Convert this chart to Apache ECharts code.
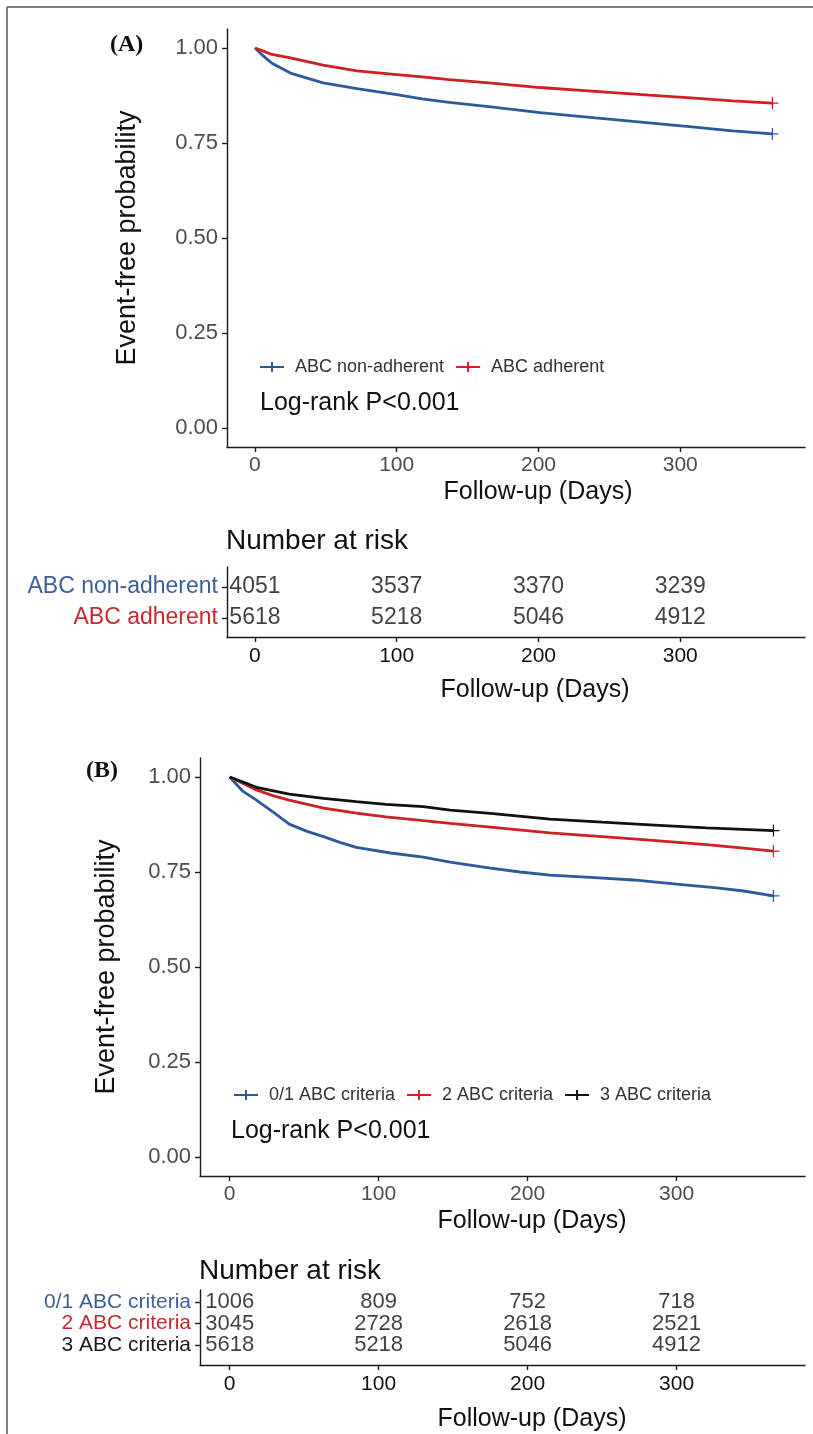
<!DOCTYPE html>
<html>
<head>
<meta charset="utf-8">
<script src="https://cdn.jsdelivr.net/npm/echarts@6/dist/echarts.min.js"></script>
<style>
html,body{margin:0;padding:0;background:#fff;}
#chart{width:813px;height:1434px;}
</style>
</head>
<body>
<div id="chart"></div>
<script>
// ---------- DATA ----------
const xTicks = [0, 100, 200, 300];
const yTicks = [0, 0.25, 0.5, 0.75, 1];

// Panel A survival curves (day, probability)
const aNonAdherentDays = [0, 5, 12, 25, 48, 72, 100, 118, 137, 165, 201, 240, 278, 310, 337, 365];
const aNonAdherentProb = [1.0, 0.982, 0.960, 0.934, 0.908, 0.893, 0.877, 0.866, 0.857, 0.846, 0.830, 0.816, 0.803, 0.792, 0.782, 0.774];
const aAdherentDays = [0, 5, 12, 25, 48, 72, 100, 118, 137, 165, 201, 240, 278, 310, 337, 365];
const aAdherentProb = [1.0, 0.993, 0.983, 0.974, 0.955, 0.940, 0.930, 0.924, 0.917, 0.908, 0.896, 0.886, 0.876, 0.868, 0.861, 0.855];

// Panel B survival curves
const b01Days = [0, 9, 18, 29, 40, 52, 63, 74, 85, 108, 130, 148, 175, 195, 215, 245, 271, 300, 327, 345, 365];
const b01Prob = [1.0, 0.962, 0.939, 0.908, 0.876, 0.857, 0.843, 0.828, 0.815, 0.800, 0.789, 0.776, 0.760, 0.750, 0.742, 0.735, 0.729, 0.718, 0.708, 0.700, 0.687];
const b2Days = [0, 8, 18, 29, 40, 63, 85, 105, 130, 148, 175, 215, 250, 282, 320, 345, 365];
const b2Prob = [1.0, 0.985, 0.966, 0.951, 0.939, 0.918, 0.905, 0.895, 0.885, 0.878, 0.868, 0.853, 0.843, 0.834, 0.822, 0.813, 0.805];
const b3Days = [0, 8, 18, 40, 63, 85, 105, 130, 148, 175, 215, 250, 282, 320, 365];
const b3Prob = [1.0, 0.988, 0.973, 0.955, 0.944, 0.935, 0.928, 0.922, 0.913, 0.904, 0.889, 0.881, 0.874, 0.866, 0.859];

// Number at risk tables
const riskDays = [0, 100, 200, 300];
const aRowNames = ['ABC non-adherent', 'ABC adherent'];
const aRiskNonAdherent = [4051, 3537, 3370, 3239];
const aRiskAdherent = [5618, 5218, 5046, 4912];
const bRowNames = ['0/1 ABC criteria', '2 ABC criteria', '3 ABC criteria'];
const bRisk01 = [1006, 809, 752, 718];
const bRisk2 = [3045, 2728, 2618, 2521];
const bRisk3 = [5618, 5218, 5046, 4912];

// ---------- STYLE ----------
const BLUE = '#2C5A9C', RED = '#D01F25', BLACK = '#111111';
const ROWBLUE = '#3E5F98', ROWRED = '#C32B30', ROWBLACK = '#1a1a1a';
const FONT = '"Liberation Sans", Arial, sans-serif';
const PLUS = 'path://M-0.1,-1H0.1V1H-0.1Z M-1,-0.1H1V0.1H-1Z';
const LEGICON = 'path://M0,4H24V6H0Z M11,0H13V10H11Z';

function curve(days, prob) {
  const last = days.length - 1;
  return days.map((d, i) => i === last
    ? { value: [d, prob[i]], symbol: PLUS, symbolSize: 12 }
    : [d, prob[i]]);
}
function lineSeries(name, days, prob, color, xi, yi) {
  return {
    type: 'line', name, xAxisIndex: xi, yAxisIndex: yi,
    data: curve(days, prob), symbol: 'none', showSymbol: true,
    color, itemStyle: { color }, lineStyle: { color, width: 2.8 },
    emphasis: { disabled: true }, z: 3
  };
}
function riskSeries(name, counts, rowVal, xi, yi, size) {
  return {
    type: 'scatter', name, xAxisIndex: xi, yAxisIndex: yi,
    data: riskDays.map((d, i) => [d, rowVal, counts[i]]),
    symbolSize: 1, itemStyle: { color: 'rgba(0,0,0,0)' },
    label: { show: true, position: 'inside', formatter: p => String(p.value[2]),
             color: '#111', fontSize: size, fontFamily: FONT },
    labelLayout: { hideOverlap: false },
    emphasis: { disabled: true }, silent: true
  };
}

const axisLineStyle = { show: true, onZero: false, lineStyle: { color: '#1a1a1a', width: 1.4 } };
const tickStyle = (vals) => ({ show: true, length: 5, customValues: vals, lineStyle: { color: '#1a1a1a', width: 1.4 } });

function mainX(gi, min, max, shift) {
  return {
    type: 'value', gridIndex: gi, min, max,
    axisLine: axisLineStyle, axisTick: tickStyle(xTicks), splitLine: { show: false },
    axisLabel: { customValues: xTicks, color: '#4D4D4D', fontSize: 21, fontFamily: FONT, margin: 8 },
    name: 'Follow-up (Days)', nameLocation: 'middle', nameGap: 33,
    nameTextStyle: { color: '#111', fontSize: 25, fontFamily: FONT, padding: [0, 0, 0, shift] }
  };
}
function mainY(gi, gap) {
  return {
    type: 'value', gridIndex: gi, min: -0.05, max: 1.05,
    axisLine: axisLineStyle, axisTick: tickStyle(yTicks), splitLine: { show: false },
    axisLabel: { customValues: yTicks, formatter: v => v.toFixed(2), color: '#4D4D4D', fontSize: 22, fontFamily: FONT, margin: 9 },
    name: 'Event-free probability', nameLocation: 'middle', nameGap: gap,
    nameTextStyle: { color: '#111', fontSize: 27, fontFamily: FONT }
  };
}
function tableX(gi, min, max, shift, gap) {
  return {
    type: 'value', gridIndex: gi, min, max,
    axisLine: axisLineStyle, axisTick: tickStyle(xTicks), splitLine: { show: false },
    axisLabel: { customValues: xTicks, color: '#111', fontSize: 21, fontFamily: FONT, margin: 9 },
    name: 'Follow-up (Days)', nameLocation: 'middle', nameGap: gap,
    nameTextStyle: { color: '#111', fontSize: 25, fontFamily: FONT, padding: [0, 0, 0, shift] }
  };
}
function tableY(gi, min, max, rowVals, names, colors, size) {
  const rich = {};
  colors.forEach((c, i) => { rich['r' + i] = { color: c, fontSize: size, fontFamily: FONT, lineHeight: 16 }; });
  return {
    type: 'value', gridIndex: gi, min, max,
    axisLine: axisLineStyle, axisTick: tickStyle(rowVals), splitLine: { show: false },
    axisLabel: {
      customValues: rowVals, margin: 9, hideOverlap: false, lineHeight: 16,
      formatter: v => { const i = rowVals.indexOf(Math.round(v)); return i < 0 ? '' : '{r' + i + '|' + names[i] + '}'; },
      rich
    }
  };
}

const option = {
  animation: false,
  backgroundColor: '#ffffff',
  textStyle: { fontFamily: FONT },
  grid: [
    { left: 227, top: 29, width: 578, height: 418 },     // A main
    { left: 227, top: 567, width: 578, height: 70 },     // A table
    { left: 200, top: 758, width: 605, height: 418 },    // B main
    { left: 200, top: 1290, width: 605, height: 75 }     // B table
  ],
  xAxis: [
    mainX(0, -19.7, 388, 44),
    tableX(1, -19.7, 388, 38, 41),
    mainX(2, -19.9, 386.2, 59),
    tableX(3, -19.9, 386.2, 59, 42)
  ],
  yAxis: [
    mainY(0, 86),
    tableY(1, 0.39, 2.65, [2, 1], aRowNames, [ROWBLUE, ROWRED], 23),
    mainY(2, 80),
    tableY(3, 0.07, 3.56, [3, 2, 1], bRowNames, [ROWBLUE, ROWRED, ROWBLACK], 21)
  ],
  legend: [
    {
      left: 255, top: 353, itemWidth: 26, itemHeight: 10, itemGap: 12, icon: LEGICON,
      data: aRowNames.map(n => ({ name: n })),
      textStyle: { color: '#333', fontSize: 18, fontFamily: FONT, padding: [0, 0, 0, 5] },
      selectedMode: false
    },
    {
      left: 229, top: 1081, itemWidth: 26, itemHeight: 10, itemGap: 12, icon: LEGICON,
      data: bRowNames.map(n => ({ name: n })),
      textStyle: { color: '#333', fontSize: 18, fontFamily: FONT, padding: [0, 0, 0, 5] },
      selectedMode: false
    }
  ],
  series: [
    lineSeries('ABC non-adherent', aNonAdherentDays, aNonAdherentProb, BLUE, 0, 0),
    lineSeries('ABC adherent', aAdherentDays, aAdherentProb, RED, 0, 0),
    riskSeries('riskA1', aRiskNonAdherent, 2, 1, 1, 23),
    riskSeries('riskA2', aRiskAdherent, 1, 1, 1, 23),
    lineSeries('0/1 ABC criteria', b01Days, b01Prob, BLUE, 2, 2),
    lineSeries('2 ABC criteria', b2Days, b2Prob, RED, 2, 2),
    lineSeries('3 ABC criteria', b3Days, b3Prob, BLACK, 2, 2),
    riskSeries('riskB1', bRisk01, 3, 3, 3, 22),
    riskSeries('riskB2', bRisk2, 2, 3, 3, 22),
    riskSeries('riskB3', bRisk3, 1, 3, 3, 22)
  ],
  graphic: [
    { type: 'line', shape: { x1: 7, y1: 7, x2: 813, y2: 7 }, style: { stroke: '#555', lineWidth: 1.5 } },
    { type: 'line', shape: { x1: 7, y1: 7, x2: 7, y2: 1434 }, style: { stroke: '#555', lineWidth: 1.5 } },
    { type: 'text', left: 110, top: 33, style: { text: '(A)', fill: '#111', font: 'bold 24px "Liberation Serif", serif' } },
    { type: 'text', left: 86, top: 759, style: { text: '(B)', fill: '#111', font: 'bold 24px "Liberation Serif", serif' } },
    { type: 'text', left: 260, top: 391, style: { text: 'Log-rank P<0.001', fill: '#111', font: '25px "Liberation Sans", Arial, sans-serif' } },
    { type: 'text', left: 231, top: 1119, style: { text: 'Log-rank P<0.001', fill: '#111', font: '25px "Liberation Sans", Arial, sans-serif' } },
    { type: 'text', left: 226, top: 527, style: { text: 'Number at risk', fill: '#111', font: '28px "Liberation Sans", Arial, sans-serif' } },
    { type: 'text', left: 199, top: 1257, style: { text: 'Number at risk', fill: '#111', font: '28px "Liberation Sans", Arial, sans-serif' } }
  ]
};

const chart = echarts.init(document.getElementById('chart'), null, { renderer: 'canvas' });
chart.setOption(option);
</script>
</body>
</html>
